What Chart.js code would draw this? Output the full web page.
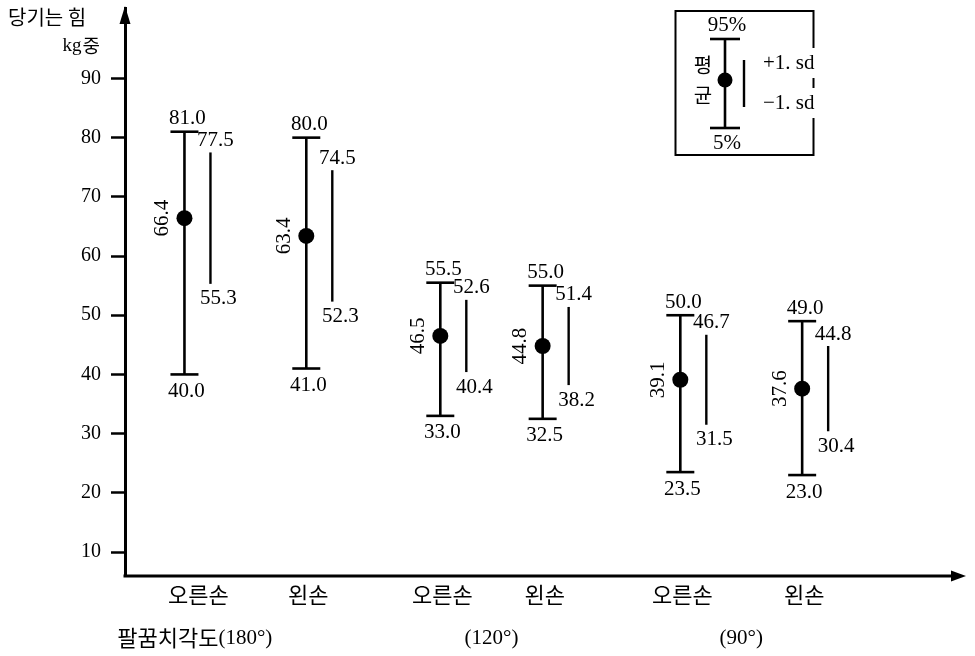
<!DOCTYPE html>
<html><head><meta charset="utf-8">
<script src="https://cdn.jsdelivr.net/npm/chart.js@4/dist/chart.umd.min.js"></script>
<style>html,body{margin:0;padding:0;background:#fff;}canvas{display:block;}</style>
</head><body>
<canvas id="c" width="975" height="656"></canvas>
<script>
// ---- data ----
const handLabels = ['오른손', '왼손', '오른손', '왼손', '오른손', '왼손'];
const angleLabels = ['(180°)', '(120°)', '(90°)'];
const anglePrefix = '팔꿈치각도';
const xPositions = [1, 2, 3.1, 3.94, 5.07, 6.07];
const p95 = [81.0, 80.0, 55.5, 55.0, 50.0, 49.0];
const plusSd = [77.5, 74.5, 52.6, 51.4, 46.7, 44.8];
const means = [66.4, 63.4, 46.5, 44.8, 39.1, 37.6];
const minusSd = [55.3, 52.3, 40.4, 38.2, 31.5, 30.4];
const p5 = [40.0, 41.0, 33.0, 32.5, 23.5, 23.0];
const yTicks = [10, 20, 30, 40, 50, 60, 70, 80, 90];
const yTitle = '당기는 힘';
const yUnitLatin = 'kg';
const yUnitKr = '중';
const legendMeanChars = ['평', '균'];

// ---- styling ----
const SERIF = '"Liberation Serif", "DejaVu Serif", serif';
const KR = '"Noto Sans CJK KR", "Noto Sans", sans-serif';
const BLACK = '#000';

function seg(ctx, x1, y1, x2, y2) { ctx.beginPath(); ctx.moveTo(x1, y1); ctx.lineTo(x2, y2); ctx.stroke(); }

const drawPlugin = {
  id: 'errorBarsAndDecor',
  beforeDatasetsDraw(chart) {
    const { ctx, scales: { x, y } } = chart;
    ctx.save();
    ctx.strokeStyle = BLACK;
    ctx.lineCap = 'butt';
    xPositions.forEach((xv, i) => {
      const px = x.getPixelForValue(xv);
      const yt = y.getPixelForValue(p95[i]);
      const yb = y.getPixelForValue(p5[i]);
      ctx.lineWidth = 2.6;
      seg(ctx, px, yt, px, yb);
      seg(ctx, px - 14, yt, px + 14, yt);
      seg(ctx, px - 14, yb, px + 14, yb);
      const sx = px + 26;
      ctx.lineWidth = 2.4;
      seg(ctx, sx, y.getPixelForValue(plusSd[i]), sx, y.getPixelForValue(minusSd[i]));
    });
    ctx.restore();
  },
  afterDatasetsDraw(chart) {
    const { ctx, chartArea, scales: { x, y } } = chart;
    ctx.save();
    ctx.setTransform(1, 0, 0, 1, 0, 0);
    ctx.fillStyle = BLACK;
    ctx.strokeStyle = BLACK;

    // x axis line + arrow
    const axY = chartArea.bottom;
    ctx.lineWidth = 3;
    seg(ctx, chartArea.left - 1.5, axY, chartArea.right - 12, axY);
    ctx.beginPath();
    ctx.moveTo(chartArea.right - 1, axY);
    ctx.lineTo(chartArea.right - 16, axY - 5.5);
    ctx.lineTo(chartArea.right - 16, axY + 5.5);
    ctx.closePath(); ctx.fill();
    // y axis arrow
    const axX = chartArea.left;
    ctx.beginPath();
    ctx.moveTo(axX, chartArea.top - 2);
    ctx.lineTo(axX - 5.5, chartArea.top + 16);
    ctx.lineTo(axX + 5.5, chartArea.top + 16);
    ctx.closePath(); ctx.fill();

    // legend box (drawn before rotated labels)
    ctx.lineWidth = 2;
    ctx.strokeRect(675.5, 11, 138, 144);
    ctx.lineWidth = 2.6;
    seg(ctx, 725, 39, 725, 128);
    seg(ctx, 710, 39, 740, 39);
    seg(ctx, 710, 128, 740, 128);
    ctx.beginPath(); ctx.arc(725, 80, 7.5, 0, Math.PI * 2); ctx.fill();
    ctx.lineWidth = 2.4;
    seg(ctx, 744, 60, 744, 107);
    ctx.textBaseline = 'middle';
    ctx.font = '21px ' + SERIF;
    ctx.textAlign = 'center';
    ctx.fillText('95%', 727, 25);
    ctx.fillText('5%', 727, 143);
    ctx.font = '20px ' + KR;
    ctx.fillText(legendMeanChars[0], 703, 65);
    ctx.fillText(legendMeanChars[1], 703, 95);
    ctx.font = '21px ' + SERIF;
    ctx.textAlign = 'left';
    [['+1. sd', 63], ['\u22121. sd', 103]].forEach(([t, ty]) => {
      const w = ctx.measureText(t).width;
      ctx.fillStyle = '#fff';
      ctx.fillRect(760, ty - 15, w + 6, 30);
      ctx.fillStyle = BLACK;
      ctx.fillText(t, 763, ty);
    });

    // axis title
    ctx.font = '20px ' + KR;
    ctx.textAlign = 'left';
    ctx.fillText(yTitle, 8, 17, 86);
    ctx.textAlign = 'right';
    ctx.font = '19px ' + KR;
    ctx.fillText(yUnitKr, 100, 46);
    const kw = ctx.measureText(yUnitKr).width;
    ctx.font = '19px ' + SERIF;
    ctx.fillText(yUnitLatin, 100 - kw - 1, 46);

    // category labels
    ctx.font = '22px ' + KR;
    ctx.textAlign = 'center';
    xPositions.forEach((xv, i) => {
      const off = i === 0 ? 14 : 2;
      ctx.fillText(handLabels[i], x.getPixelForValue(xv) + off, axY + 19);
    });
    // angle group labels
    angleLabels.forEach((lab, g) => {
      const cx = (x.getPixelForValue(xPositions[2 * g]) + x.getPixelForValue(xPositions[2 * g + 1])) / 2;
      ctx.font = '21px ' + SERIF;
      ctx.textAlign = 'center';
      ctx.fillText(lab, cx, axY + 62);
      if (g === 0) {
        const w = ctx.measureText(lab).width;
        ctx.font = '22px ' + KR;
        ctx.textAlign = 'right';
        ctx.fillText(anglePrefix, cx - w / 2, axY + 62);
      }
    });

    // value labels
    ctx.font = '21px ' + SERIF;
    ctx.textBaseline = 'middle';
    xPositions.forEach((xv, i) => {
      const px = x.getPixelForValue(xv);
      ctx.textAlign = 'center';
      ctx.fillText(p95[i].toFixed(1), px + 3, y.getPixelForValue(p95[i]) - 13);
      ctx.fillText(p5[i].toFixed(1), px + 2, y.getPixelForValue(p5[i]) + 17);
      const sx = px + 26;
      ctx.fillText(plusSd[i].toFixed(1), sx + 5, y.getPixelForValue(plusSd[i]) - 12);
      ctx.fillText(minusSd[i].toFixed(1), sx + 8, y.getPixelForValue(minusSd[i]) + 15);
      ctx.save();
      ctx.translate(px - 22, y.getPixelForValue(means[i]));
      ctx.rotate(-Math.PI / 2);
      ctx.fillText(means[i].toFixed(1), 0, 0);
      ctx.restore();
    });
    ctx.restore();
  }
};

new Chart(document.getElementById('c'), {
  type: 'scatter',
  data: {
    datasets: [{
      data: xPositions.map((xv, i) => ({ x: xv, y: means[i] })),
      pointRadius: 8,
      pointBackgroundColor: BLACK,
      pointBorderColor: BLACK,
      pointBorderWidth: 0,
      clip: false
    }]
  },
  options: {
    responsive: false,
    animation: false,
    events: [],
    layout: { padding: { left: 0, right: 0, top: 7, bottom: 80 } },
    plugins: { legend: { display: false }, tooltip: { enabled: false } },
    scales: {
      x: { type: 'linear', display: false, min: 0.512, max: 7.423 },
      y: {
        type: 'linear',
        min: 5.95, max: 101.9,
        afterBuildTicks(scale) { scale.ticks = yTicks.map(v => ({ value: v })); },
        afterFit(scale) { scale.width = 125; scale.paddingTop = 0; scale.paddingBottom = 0; },
        grid: { drawOnChartArea: false, drawTicks: true, tickLength: 14, tickColor: BLACK, tickWidth: 2.5 },
        border: { display: true, color: BLACK, width: 3 },
        ticks: { color: BLACK, padding: 10, font: { family: SERIF, size: 20 }, callback: v => String(v) }
      }
    }
  },
  plugins: [drawPlugin]
});
</script>
</body></html>
